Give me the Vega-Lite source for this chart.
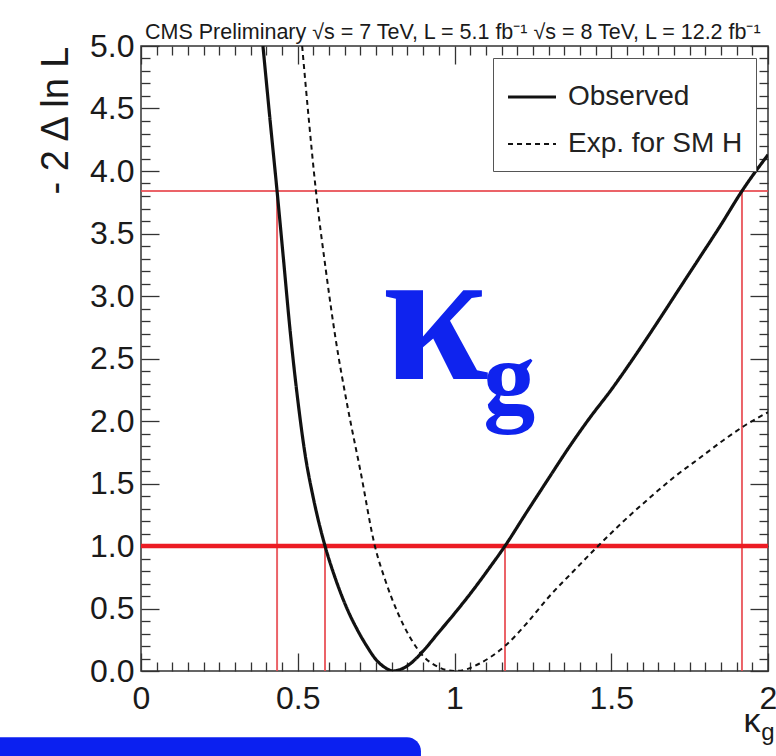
{
  "$schema": "https://vega.github.io/schema/vega-lite/v6.json",
  "width": 627,
  "height": 625,
  "autosize": {"type": "none"},
  "padding": {"left": 141, "top": 46, "right": 8, "bottom": 85},
  "background": "white",
  "title": {
    "text": "CMS Preliminary  √s = 7 TeV, L = 5.1 fb⁻¹  √s = 8 TeV, L = 12.2 fb⁻¹",
    "anchor": "start",
    "frame": "group",
    "font": "Liberation Sans",
    "fontSize": 21.5,
    "fontWeight": "normal",
    "color": "#1a1a1a",
    "offset": -13,
    "dx": 4
  },
  "datasets": {
    "curves": [
      {"series": "Observed", "x": 0.389, "y": 5.0},
      {"series": "Observed", "x": 0.41, "y": 4.45},
      {"series": "Observed", "x": 0.434, "y": 3.84},
      {"series": "Observed", "x": 0.455, "y": 3.28},
      {"series": "Observed", "x": 0.475, "y": 2.74},
      {"series": "Observed", "x": 0.5, "y": 2.17},
      {"series": "Observed", "x": 0.523, "y": 1.74},
      {"series": "Observed", "x": 0.55, "y": 1.38},
      {"series": "Observed", "x": 0.587, "y": 1.0},
      {"series": "Observed", "x": 0.62, "y": 0.74},
      {"series": "Observed", "x": 0.657, "y": 0.5},
      {"series": "Observed", "x": 0.69, "y": 0.33},
      {"series": "Observed", "x": 0.72, "y": 0.2},
      {"series": "Observed", "x": 0.75, "y": 0.09},
      {"series": "Observed", "x": 0.78, "y": 0.025},
      {"series": "Observed", "x": 0.805, "y": 0.0},
      {"series": "Observed", "x": 0.83, "y": 0.015},
      {"series": "Observed", "x": 0.86, "y": 0.06},
      {"series": "Observed", "x": 0.9, "y": 0.16},
      {"series": "Observed", "x": 0.95, "y": 0.31},
      {"series": "Observed", "x": 1.0, "y": 0.46},
      {"series": "Observed", "x": 1.06, "y": 0.65},
      {"series": "Observed", "x": 1.11, "y": 0.82},
      {"series": "Observed", "x": 1.161, "y": 1.0},
      {"series": "Observed", "x": 1.23, "y": 1.27},
      {"series": "Observed", "x": 1.3, "y": 1.54},
      {"series": "Observed", "x": 1.36, "y": 1.77},
      {"series": "Observed", "x": 1.43, "y": 2.02},
      {"series": "Observed", "x": 1.5, "y": 2.25},
      {"series": "Observed", "x": 1.57, "y": 2.5},
      {"series": "Observed", "x": 1.65, "y": 2.8},
      {"series": "Observed", "x": 1.72, "y": 3.07},
      {"series": "Observed", "x": 1.78, "y": 3.3},
      {"series": "Observed", "x": 1.85, "y": 3.57},
      {"series": "Observed", "x": 1.917, "y": 3.84},
      {"series": "Observed", "x": 2.0, "y": 4.13},
      {"series": "Exp. for SM H", "x": 0.514, "y": 5.0},
      {"series": "Exp. for SM H", "x": 0.535, "y": 4.42},
      {"series": "Exp. for SM H", "x": 0.558, "y": 3.84},
      {"series": "Exp. for SM H", "x": 0.59, "y": 3.2},
      {"series": "Exp. for SM H", "x": 0.62, "y": 2.67},
      {"series": "Exp. for SM H", "x": 0.66, "y": 2.1},
      {"series": "Exp. for SM H", "x": 0.7, "y": 1.6},
      {"series": "Exp. for SM H", "x": 0.746, "y": 1.0},
      {"series": "Exp. for SM H", "x": 0.78, "y": 0.72},
      {"series": "Exp. for SM H", "x": 0.82, "y": 0.46},
      {"series": "Exp. for SM H", "x": 0.858, "y": 0.27},
      {"series": "Exp. for SM H", "x": 0.9, "y": 0.12},
      {"series": "Exp. for SM H", "x": 0.95, "y": 0.03},
      {"series": "Exp. for SM H", "x": 1.0, "y": 0.0},
      {"series": "Exp. for SM H", "x": 1.04, "y": 0.015},
      {"series": "Exp. for SM H", "x": 1.08, "y": 0.06},
      {"series": "Exp. for SM H", "x": 1.12, "y": 0.12},
      {"series": "Exp. for SM H", "x": 1.161, "y": 0.2},
      {"series": "Exp. for SM H", "x": 1.23, "y": 0.38},
      {"series": "Exp. for SM H", "x": 1.3, "y": 0.59},
      {"series": "Exp. for SM H", "x": 1.38, "y": 0.8},
      {"series": "Exp. for SM H", "x": 1.458, "y": 1.0},
      {"series": "Exp. for SM H", "x": 1.54, "y": 1.2},
      {"series": "Exp. for SM H", "x": 1.62, "y": 1.38},
      {"series": "Exp. for SM H", "x": 1.7, "y": 1.55},
      {"series": "Exp. for SM H", "x": 1.78, "y": 1.7},
      {"series": "Exp. for SM H", "x": 1.86, "y": 1.85},
      {"series": "Exp. for SM H", "x": 1.93, "y": 1.97},
      {"series": "Exp. for SM H", "x": 2.0, "y": 2.07}
    ],
    "hrules": [{"y": 1.0}, {"y": 3.84}],
    "vrules": [
      {"x": 0.434, "top": 3.84},
      {"x": 0.587, "top": 1.0},
      {"x": 1.161, "top": 1.0},
      {"x": 1.917, "top": 3.84}
    ]
  },
  "layer": [
    {
      "data": {"values": [{}]},
      "mark": {"type": "rect", "color": "#0b20f0", "clip": false, "cornerRadiusTopRight": 14},
      "encoding": {
        "x": {"datum": -0.5, "type": "quantitative", "scale": {"domain": [0, 2], "nice": false, "zero": false}, "axis": null},
        "x2": {"datum": 0.893},
        "y": {"datum": -0.53, "type": "quantitative", "scale": {"domain": [0, 5], "nice": false, "zero": false}, "axis": null},
        "y2": {"datum": -0.8}
      }
    },
    {
      "data": {"name": "vrules"},
      "mark": {"type": "rule", "color": "#e8484d", "strokeWidth": 2, "opacity": 0.85},
      "encoding": {
        "x": {
          "field": "x", "type": "quantitative",
          "scale": {"domain": [0, 2], "nice": false, "zero": false},
          "axis": {
            "orient": "top",
            "values": [0,0.05,0.1,0.15,0.2,0.25,0.3,0.35,0.4,0.45,0.5,0.55,0.6,0.65,0.7,0.75,0.8,0.85,0.9,0.95,1,1.05,1.1,1.15,1.2,1.25,1.3,1.35,1.4,1.45,1.5,1.55,1.6,1.65,1.7,1.75,1.8,1.85,1.9,1.95,2],
            "tickSize": {"condition": {"test": "abs(datum.value*2-round(datum.value*2))<0.001", "value": -18}, "value": -9},
            "labels": false,
            "title": null
          }
        },
        "y": {
          "field": "top", "type": "quantitative",
          "scale": {"domain": [0, 5], "nice": false, "zero": false},
          "axis": {
            "orient": "right",
            "values": [0,0.1,0.2,0.3,0.4,0.5,0.6,0.7,0.8,0.9,1,1.1,1.2,1.3,1.4,1.5,1.6,1.7,1.8,1.9,2,2.1,2.2,2.3,2.4,2.5,2.6,2.7,2.8,2.9,3,3.1,3.2,3.3,3.4,3.5,3.6,3.7,3.8,3.9,4,4.1,4.2,4.3,4.4,4.5,4.6,4.7,4.8,4.9,5],
            "tickSize": {"condition": {"test": "abs(datum.value*2-round(datum.value*2))<0.001", "value": -18}, "value": -9},
            "labels": false,
            "title": null
          }
        },
        "y2": {"datum": 0}
      }
    },
    {
      "data": {"name": "hrules"},
      "transform": [{"filter": "datum.y > 3"}],
      "mark": {"type": "rule", "color": "#e8484d", "strokeWidth": 2, "opacity": 0.85},
      "encoding": {
        "y": {"field": "y", "type": "quantitative", "scale": {"domain": [0, 5], "nice": false, "zero": false}, "axis": null}
      }
    },
    {
      "data": {"name": "hrules"},
      "transform": [{"filter": "datum.y < 3"}],
      "mark": {"type": "rule", "color": "#ec1c24", "strokeWidth": 4.5},
      "encoding": {
        "y": {"field": "y", "type": "quantitative", "scale": {"domain": [0, 5], "nice": false, "zero": false}, "axis": null}
      }
    },
    {
      "data": {"name": "curves"},
      "mark": {"type": "line", "color": "#111111", "interpolate": "monotone", "clip": true},
      "encoding": {
        "x": {
          "field": "x", "type": "quantitative",
          "scale": {"domain": [0, 2], "nice": false, "zero": false},
          "axis": {
            "orient": "bottom",
            "values": [0,0.05,0.1,0.15,0.2,0.25,0.3,0.35,0.4,0.45,0.5,0.55,0.6,0.65,0.7,0.75,0.8,0.85,0.9,0.95,1,1.05,1.1,1.15,1.2,1.25,1.3,1.35,1.4,1.45,1.5,1.55,1.6,1.65,1.7,1.75,1.8,1.85,1.9,1.95,2],
            "tickSize": {"condition": {"test": "abs(datum.value*2-round(datum.value*2))<0.001", "value": -18}, "value": -9},
            "labelExpr": "abs(datum.value*2-round(datum.value*2))<0.001 ? format(datum.value, '~g') : ''",
            "labelPadding": 30,
            "title": "κ",
            "titleFontSize": 34,
            "titleAnchor": "end",
            "titleAlign": "right",
            "titleX": 619,
            "titleY": 60,
            "titleBaseline": "alphabetic"
          }
        },
        "y": {
          "field": "y", "type": "quantitative",
          "scale": {"domain": [0, 5], "nice": false, "zero": false},
          "axis": {
            "orient": "left",
            "values": [0,0.1,0.2,0.3,0.4,0.5,0.6,0.7,0.8,0.9,1,1.1,1.2,1.3,1.4,1.5,1.6,1.7,1.8,1.9,2,2.1,2.2,2.3,2.4,2.5,2.6,2.7,2.8,2.9,3,3.1,3.2,3.3,3.4,3.5,3.6,3.7,3.8,3.9,4,4.1,4.2,4.3,4.4,4.5,4.6,4.7,4.8,4.9,5],
            "tickSize": {"condition": {"test": "abs(datum.value*2-round(datum.value*2))<0.001", "value": -18}, "value": -9},
            "labelExpr": "abs(datum.value*2-round(datum.value*2))<0.001 ? format(datum.value, '.1f') : ''",
            "labelPadding": 25,
            "title": "- 2 Δ ln L",
            "titleFontSize": 38,
            "titleAnchor": "end",
            "titlePadding": 14
          }
        },
        "strokeDash": {
          "field": "series", "type": "nominal",
          "scale": {"domain": ["Observed", "Exp. for SM H"], "range": [[1, 0], [5, 4]]},
          "legend": {
            "title": null,
            "orient": "top-right",
            "offset": 12,
            "padding": 13,
            "strokeColor": "#555555",
            "fillColor": "white",
            "labelFont": "Liberation Sans",
            "labelFontSize": 28,
            "labelColor": "#222222",
            "labelOffset": 10,
            "labelLimit": 400,
            "symbolType": "stroke",
            "symbolSize": 2300,
            "symbolStrokeColor": "#111111",
            "rowPadding": 8
          }
        },
        "strokeWidth": {
          "field": "series", "type": "nominal",
          "scale": {"type": "point", "padding": 0, "domain": ["Observed", "Exp. for SM H"], "range": [3.2, 2]},
          "legend": {"title": null}
        }
      }
    },
    {
      "data": {"values": [{}]},
      "mark": {"type": "text", "text": "κ", "font": "Liberation Serif", "fontWeight": "bold", "fontSize": 192, "color": "#0f23ee", "align": "center", "baseline": "alphabetic"},
      "encoding": {
        "x": {"datum": 0.94, "type": "quantitative", "scale": {"domain": [0, 2], "nice": false, "zero": false}, "axis": null},
        "y": {"datum": 2.34, "type": "quantitative", "scale": {"domain": [0, 5], "nice": false, "zero": false}, "axis": null}
      }
    },
    {
      "data": {"values": [{}]},
      "mark": {"type": "text", "text": "g", "font": "Liberation Serif", "fontWeight": "bold", "fontSize": 104, "color": "#0f23ee", "align": "center", "baseline": "alphabetic"},
      "encoding": {
        "x": {"datum": 1.175, "type": "quantitative", "scale": {"domain": [0, 2], "nice": false, "zero": false}, "axis": null},
        "y": {"datum": 2.07, "type": "quantitative", "scale": {"domain": [0, 5], "nice": false, "zero": false}, "axis": null}
      }
    },
    {
      "data": {"values": [{}]},
      "mark": {"type": "text", "text": "g", "font": "Liberation Sans", "fontSize": 24, "color": "#1a1a1a", "align": "center", "baseline": "alphabetic", "clip": false},
      "encoding": {
        "x": {"datum": 2.0, "type": "quantitative", "scale": {"domain": [0, 2], "nice": false, "zero": false}, "axis": null},
        "y": {"datum": -0.55, "type": "quantitative", "scale": {"domain": [0, 5], "nice": false, "zero": false}, "axis": null}
      }
    }
  ],
  "resolve": {"axis": {"x": "independent", "y": "independent"}},
  "config": {
    "view": {"stroke": "#333333", "strokeWidth": 1.5},
    "axis": {
      "domain": false,
      "grid": false,
      "tickColor": "#333333",
      "tickWidth": 1.3,
      "labelFont": "Liberation Sans",
      "labelFontSize": 32,
      "labelColor": "#1a1a1a",
      "labelFlush": false,
      "labelOverlap": false,
      "labelBound": false,
      "titleFont": "Liberation Sans",
      "titleFontWeight": "normal",
      "titleColor": "#1a1a1a"
    }
  }
}
